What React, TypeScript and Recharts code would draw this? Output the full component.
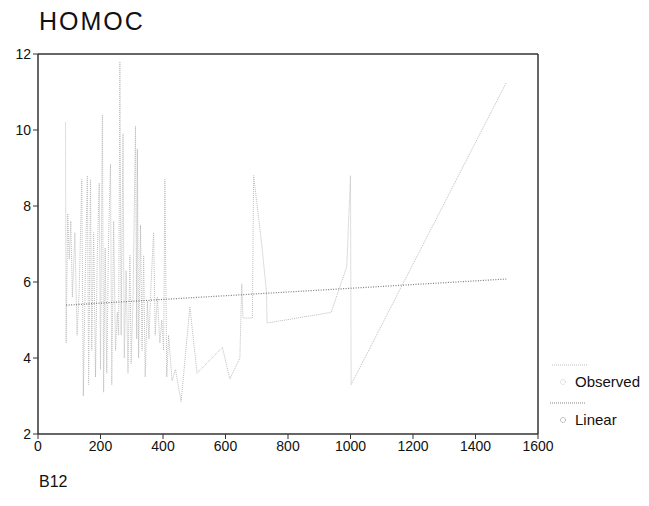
import React from "react";
import { LineChart, Line, XAxis, YAxis, ReferenceLine } from "recharts";

const title = "HOMOC";
const footer = "B12";
const xTicks = [0, 200, 400, 600, 800, 1000, 1200, 1400, 1600];
const yTicks = [2, 4, 6, 8, 10, 12];
const legendNames = ["Observed", "Linear"];

const obsX = [88, 90, 95, 100, 105, 110, 118, 125, 132, 140, 145, 152, 158, 162, 168, 172, 178, 184, 190, 196, 200, 206, 210, 215, 220, 226, 232, 236, 242, 248, 254, 258, 262, 266, 272, 276, 282, 288, 294, 298, 304, 312, 316, 318, 322, 328, 333, 338, 343, 350, 355, 362, 370, 375, 382, 390, 396, 402, 406, 412, 418, 429, 440, 458, 486, 509, 590, 614, 646, 652, 656, 686, 690, 717, 731, 733, 938, 988, 1000, 1002, 1498];
const obsY = [10.2, 4.4, 7.8, 6.6, 7.6, 5.6, 7.3, 4.6, 5.8, 8.7, 3.0, 6.5, 8.8, 3.3, 8.7, 4.2, 7.3, 3.5, 6.8, 8.6, 3.7, 10.4, 3.1, 6.9, 3.6, 7.2, 9.1, 3.3, 7.6, 4.2, 5.2, 4.6, 11.8, 4.6, 9.9, 4.0, 6.3, 3.6, 6.7, 3.85, 5.5, 10.1, 4.5, 9.5, 4.0, 7.5, 4.2, 6.7, 3.5, 5.5, 4.5, 6.0, 7.3, 4.6, 5.6, 4.4, 5.0, 4.2, 8.7, 3.5, 4.6, 3.4, 3.7, 2.85, 5.35, 3.6, 4.28, 3.45, 4.0, 5.95, 5.05, 5.05, 8.8, 6.9, 5.75, 4.92, 5.2, 6.4, 8.8, 3.3, 11.24];

const linX = [90, 1502];
const linY = [5.39, 6.08];

const observed = obsX.map((x, i) => ({ x, y: obsY[i] }));
const linear = linX.map((x, i) => ({ x, y: linY[i] }));

const FONT = "Arial, 'Liberation Sans', sans-serif";
const AXIS = "#333";
const OBS = "#bdbdbd";
const LIN = "#7a7a7a";

const LegendBox = () => (
  <svg width={100} height={70} style={{ position: "absolute", left: 548, top: 358, display: "block" }}>
    <line x1={4} y1={7} x2={40} y2={7} stroke={OBS} strokeDasharray="1 1" />
    <circle cx={15} cy={24} r={2.5} fill="none" stroke="#c8c8c8" strokeDasharray="1 1" />
    <text x={27} y={29} fontSize={15} fontFamily={FONT} fill="#111">{legendNames[0]}</text>
    <line x1={2} y1={45} x2={38} y2={45} stroke="#888" strokeDasharray="1 1" />
    <circle cx={15} cy={62} r={2.5} fill="none" stroke="#888" strokeDasharray="1 1" />
    <text x={27} y={67} fontSize={15} fontFamily={FONT} fill="#111">{legendNames[1]}</text>
  </svg>
);

export default function App() {
  return (
    <div style={{ position: "absolute", left: 0, top: 0, width: 649, height: 506, background: "#fff", fontFamily: FONT }}>
      <div style={{ position: "absolute", left: 39, top: 9, fontSize: 25, lineHeight: "25px", letterSpacing: 2, color: "#111" }}>{title}</div>
      <div style={{ position: "absolute", left: 39, top: 474, fontSize: 16, lineHeight: "16px", color: "#111" }}>{footer}</div>
      <LineChart width={649} height={506} margin={{ top: 54, right: 111, bottom: 42, left: 0 }}>
        <XAxis
          dataKey="x"
          type="number"
          domain={[0, 1600]}
          ticks={xTicks}
          allowDataOverflow
          height={30}
          tickSize={5}
          axisLine={{ stroke: AXIS, strokeWidth: 1.5 }}
          tickLine={{ stroke: AXIS }}
          tick={{ fill: "#111", fontSize: 14, fontFamily: FONT }}
        />
        <YAxis
          dataKey="y"
          type="number"
          domain={[2, 12]}
          ticks={yTicks}
          allowDataOverflow
          width={38}
          tickSize={5}
          axisLine={{ stroke: AXIS, strokeWidth: 1.5 }}
          tickLine={{ stroke: AXIS }}
          tick={{ fill: "#111", fontSize: 14, fontFamily: FONT }}
        />
        <ReferenceLine y={12} stroke={AXIS} strokeWidth={1.5} />
        <ReferenceLine x={1600} stroke={AXIS} strokeWidth={1.5} />
        <Line
          data={observed}
          dataKey="y"
          name={legendNames[0]}
          type="linear"
          stroke={OBS}
          strokeWidth={1}
          strokeDasharray="1 1"
          dot={false}
          isAnimationActive={false}
        />
        <Line
          data={linear}
          dataKey="y"
          name={legendNames[1]}
          type="linear"
          stroke={LIN}
          strokeWidth={1.2}
          strokeDasharray="1 1.5"
          dot={false}
          isAnimationActive={false}
        />
      </LineChart>
      <LegendBox />
    </div>
  );
}
